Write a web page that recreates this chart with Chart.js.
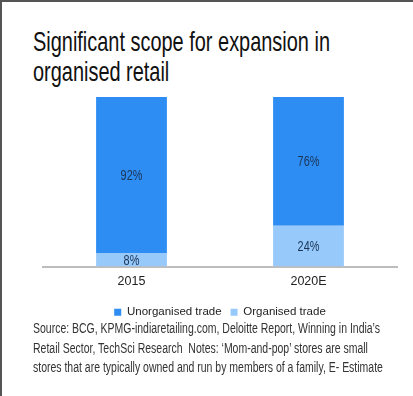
<!DOCTYPE html>
<html>
<head>
<meta charset="utf-8">
<script src="https://cdn.jsdelivr.net/npm/chart.js@4.4.1/dist/chart.umd.min.js"></script>
<style>
    html, body { margin: 0; padding: 0; background: #fff; }
    #frame {
        position: relative;
        width: 413px;
        height: 396px;
        overflow: hidden;
        box-sizing: border-box;
        border-left: 2px solid #555;
        border-top: 2px solid #555;
    }
    .squeeze {
        position: absolute;
        left: 31px;
        font-family: "Liberation Sans", Arial, sans-serif;
        white-space: nowrap;
        transform-origin: 0 0;
    }
    .squeeze span { display: inline-block; }
    #title {
        top: 25px;
        font-size: 28px;
        line-height: 30px;
        color: #111;
    }
    #note {
        top: 317px;
        font-size: 14px;
        line-height: 19.5px;
        color: #333;
    }
    #chartBox {
        position: absolute;
        left: -2px;
        top: 83px;
        width: 413px;
        height: 243px;
    }
</style>
</head>
<body>
<div id="frame">
    <div id="title" class="squeeze" data-fit="297"><span>Significant scope for expansion in</span><br><span>organised retail</span></div>
    <div id="chartBox"><canvas id="retailChart"></canvas></div>
    <div id="note" class="squeeze" data-fit="347"><span>Source: BCG, KPMG-indiaretailing.com, Deloitte Report, Winning in India’s</span><br><span>Retail Sector, TechSci Research&nbsp; Notes: ‘Mom-and-pop’ stores are small</span><br><span>stores that are typically owned and run by members of a family, E- Estimate</span></div>
</div>
<script>
// Share of retail trade (%)
const years = ['2015', '2020E'];
const unorganised = [92, 76];
const organised = [8, 24];

// Condense text blocks so the first line spans the given width
document.querySelectorAll('.squeeze').forEach(el => {
    const first = el.querySelector('span');
    const scale = Number(el.dataset.fit) / first.getBoundingClientRect().width;
    el.style.transform = 'scaleX(' + scale + ')';
});

const sans = '"Liberation Sans", Arial, sans-serif';

// Draws the percentage in the middle of each stacked segment
const segmentLabels = {
    id: 'segmentLabels',
    afterDatasetsDraw(chart) {
        const ctx = chart.ctx;
        ctx.save();
        ctx.font = '14px ' + sans;
        ctx.fillStyle = '#1c3557';
        ctx.textAlign = 'center';
        ctx.textBaseline = 'middle';
        chart.data.datasets.forEach((ds, i) => {
            chart.getDatasetMeta(i).data.forEach((bar, j) => {
                const mid = (bar.y + bar.base) / 2;
                ctx.save();
                ctx.translate(bar.x, mid + 1);
                ctx.scale(0.78, 1);
                ctx.fillText(ds.data[j] + '%', 0, 0);
                ctx.restore();
            });
        });
        ctx.restore();
    }
};

new Chart(document.getElementById('retailChart'), {
    type: 'bar',
    data: {
        labels: years,
        datasets: [
            {
                label: 'Organised trade',
                data: organised,
                backgroundColor: '#97c9fb'
            },
            {
                label: 'Unorganised trade',
                data: unorganised,
                backgroundColor: '#2d8df3'
            }
        ]
    },
    options: {
        responsive: true,
        maintainAspectRatio: false,
        animation: false,
        barPercentage: 0.4,
        categoryPercentage: 1,
        layout: {
            padding: { top: 12, left: 43, right: 16, bottom: 0 }
        },
        scales: {
            x: {
                stacked: true,
                grid: { display: false, drawTicks: false },
                border: { color: '#bdbdbd', width: 2 },
                ticks: {
                    color: '#222',
                    font: { family: sans, size: 12.5 },
                    padding: 8
                }
            },
            y: {
                stacked: true,
                display: false,
                min: 0,
                max: 100
            }
        },
        plugins: {
            legend: {
                position: 'bottom',
                reverse: true,
                labels: {
                    boxWidth: 7,
                    boxHeight: 7,
                    color: '#222',
                    padding: 9,
                    font: { family: sans, size: 11.5 }
                }
            },
            tooltip: { enabled: false }
        }
    },
    plugins: [segmentLabels]
});
</script>
</body>
</html>
